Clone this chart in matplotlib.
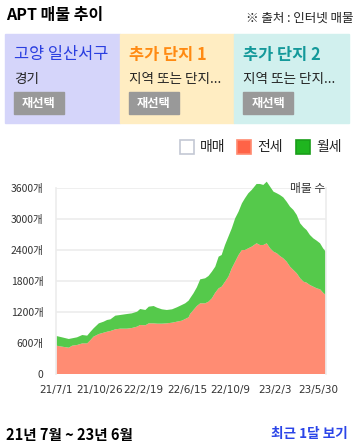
import numpy as np
import matplotlib
matplotlib.use("Agg")
import matplotlib.pyplot as plt
from matplotlib.patches import Rectangle

plt.rcParams['font.family'] = ['Noto Sans CJK KR', 'DejaVu Sans']

# days since 2021-07-01
days = [1, 16, 34, 43, 56, 70, 83, 92, 100, 114, 127, 136, 145, 158, 171, 189, 202, 216,
        224, 238, 247, 260, 269, 282, 295, 309, 322, 335, 344, 353, 357, 366, 375, 384,
        397, 406, 415, 424, 433, 441, 450, 459, 468, 477, 486, 495, 503, 512, 521, 534,
        543, 552, 561, 570, 579, 588, 596, 605, 614, 623, 632, 641, 650, 659, 667, 676,
        685, 694, 703, 711, 718]
jeonse = [549, 530, 510, 549, 562, 594, 594, 659, 724, 775, 801, 820, 834, 866, 879, 879,
          892, 918, 950, 944, 982, 982, 976, 976, 982, 995, 1015, 1034, 1066, 1099, 1163,
          1241, 1318, 1370, 1370, 1402, 1467, 1577, 1661, 1693, 1790, 1887, 2049, 2178,
          2307, 2404, 2404, 2437, 2469, 2534, 2501, 2501, 2534, 2437, 2372, 2340, 2288,
          2243, 2178, 2081, 2016, 1952, 1855, 1790, 1771, 1725, 1693, 1661, 1642, 1577, 1532]
wolse = [188, 181, 169, 143, 149, 162, 149, 161, 161, 207, 214, 227, 226, 265, 265, 284,
         284, 290, 310, 297, 323, 336, 310, 278, 259, 259, 278, 304, 304, 323, 304, 323,
         362, 465, 485, 498, 517, 504, 614, 614, 711, 776, 775, 840, 840, 905, 1002, 1066,
         1099, 1150, 1183, 1164, 1195, 1195, 1163, 1163, 1183, 1182, 1163, 1163, 1164,
         1131, 1066, 1054, 1021, 970, 937, 924, 892, 860, 840]

tick_dates = ['2021-07-01', '2021-10-26', '2022-02-19', '2022-06-15', '2022-10-09',
              '2023-02-03', '2023-05-30']
tick_labels = ['21/7/1', '21/10/26', '22/2/19', '22/6/15', '22/10/9', '23/2/3', '23/5/30']
y_ticks = [0, 600, 1200, 1800, 2400, 3000, 3600]

panel_titles = ['고양 일산서구', '추가 단지 1', '추가 단지 2']
panel_subs = ['경기', '지역 또는 단지...', '지역 또는 단지...']
panel_bg = ['#d5d5fa', '#ffedc2', '#d1f0ee']
panel_fg = ['#2b3fe0', '#ff8a12', '#14999a']

W, H = 358, 447
fig = plt.figure(figsize=(W / 100, H / 100), dpi=100)

def fx(px):
    return px / W

def fy(py):
    return 1 - py / H

# header
fig.text(fx(6), fy(15), 'APT 매물 추이', fontsize=11.5, fontweight='bold', va='center', ha='left')
fig.text(fx(354), fy(18), '※ 출처 : 인터넷 매물', fontsize=9, color='#222222', va='center', ha='right')

# panels
pw = 114.7
for i in range(3):
    x0 = 5 + i * pw
    fig.patches.append(Rectangle((fx(x0), fy(123)), fx(pw), (123 - 34) / H,
                                 transform=fig.transFigure, color=panel_bg[i], zorder=0))
    fig.text(fx(x0 + 9), fy(55), panel_titles[i], fontsize=11.8, color=panel_fg[i],
             fontweight='normal' if i == 0 else 'bold', va='center', ha='left')
    fig.text(fx(x0 + 9), fy(79), panel_subs[i], fontsize=9.8, color='#222222', va='center', ha='left')
    fig.patches.append(Rectangle((fx(x0 + 9), fy(114)), fx(50), 22 / H,
                                 transform=fig.transFigure, color='#999999', zorder=1))
    fig.text(fx(x0 + 34), fy(103), '재선택', fontsize=8.8, color='white', fontweight='bold',
             va='center', ha='center', zorder=2)

# legend
leg = [('매매', 'white', '#c4c8d4', 180), ('전세', '#ff6347', '#ff8a70', 237), ('월세', '#1fb51f', '#1a9e1a', 296)]
for name, fc, ec, lx in leg:
    fig.patches.append(Rectangle((fx(lx), fy(154)), fx(14), 14 / H, transform=fig.transFigure,
                                 facecolor=fc, edgecolor=ec, linewidth=1.2))
    fig.text(fx(lx + 20), fy(147), name, fontsize=10, color='#222222', va='center', ha='left')

# chart
ax = fig.add_axes([fx(56), fy(374), fx(325.7 - 56), (374 - 188.3) / H])
x = np.array(days)
ax.stackplot(x, jeonse, wolse, colors=['#ff8c73', '#55c94b'], linewidth=0, clip_on=False, zorder=2)
ax.set_xlim(0, 718)
ax.set_ylim(0, 3600)
start = np.datetime64('2021-07-01')
tick_pos = [(np.datetime64(d) - start).astype(int) for d in tick_dates]
ax.set_xticks(tick_pos)
ax.set_xticklabels(tick_labels, fontsize=7.5, color='#333333', family=['DejaVu Sans'])
ax.set_yticks(y_ticks)
ax.set_yticklabels([str(v) if v == 0 else f'{v}개' for v in y_ticks], fontsize=7.5, color='#333333')
ax.tick_params(length=0, pad=9)
ax.tick_params(axis='x', pad=8)
ax.grid(axis='y', color='#ececec', linewidth=1.2, zorder=0)
ax.set_axisbelow(True)
for s in ['top', 'bottom']:
    ax.spines[s].set_visible(False)
for s in ['left', 'right']:
    ax.spines[s].set_color('#ececec')
    ax.spines[s].set_linewidth(1.2)
ax.text(1.0, 1.0, '매물 수', transform=ax.transAxes, fontsize=8.5, color='#333333',
        ha='right', va='center', zorder=3)

# footer
fig.text(fx(6), fy(435), '21년 7월 ~ 23년 6월', fontsize=10.5, fontweight='bold', va='center', ha='left')
fig.text(fx(348), fy(434), '최근 1달 보기', fontsize=9.8, color='#2b45e8', fontweight='bold',
         va='center', ha='right')

fig.savefig('out.png', dpi=100)
